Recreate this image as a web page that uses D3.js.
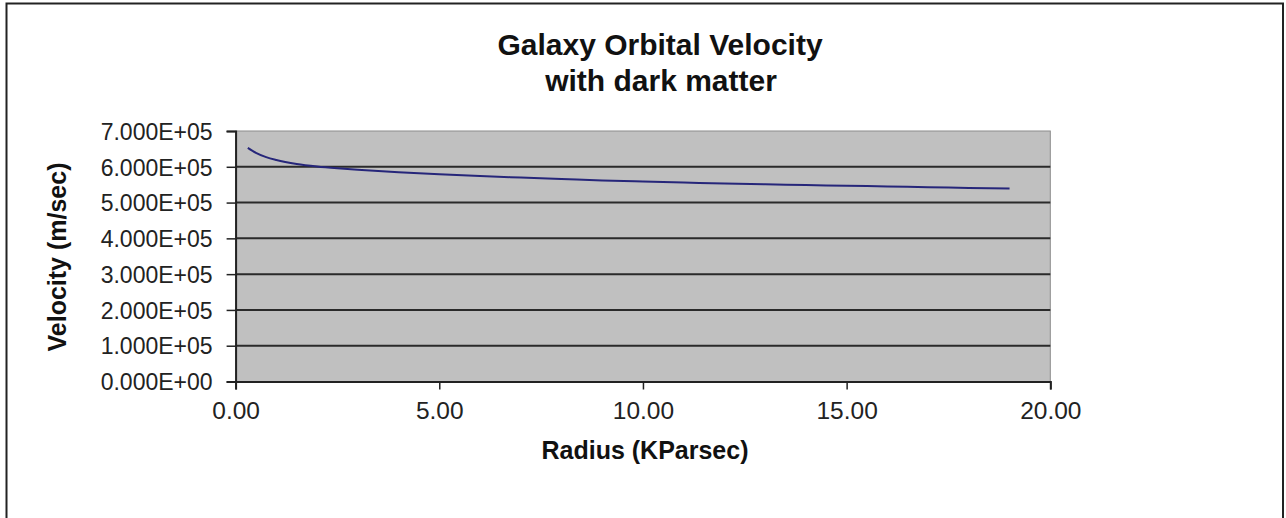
<!DOCTYPE html>
<html><head><meta charset="utf-8">
<script src="https://cdn.jsdelivr.net/npm/d3@7"></script>
<style>html,body{margin:0;padding:0;background:#fff;}svg{display:block;}</style>
</head><body>
<svg id="chart" width="1286" height="518"></svg>
<script>
// Data
const radius = [0.3, 0.5, 0.75, 1.0, 1.5, 2.0, 2.5, 3.0, 4.0, 5.0, 6.0, 7.0, 8.0, 9.0, 10.0, 11.0, 12.0, 13.0, 14.0, 15.0, 16.0, 17.0, 18.0, 19.0];
const velocity = [6.53e5, 6.39e5, 6.27e5, 6.19e5, 6.08e5, 6.01e5, 5.96e5, 5.92e5, 5.85e5, 5.79e5, 5.74e5, 5.70e5, 5.66e5, 5.62e5, 5.59e5, 5.56e5, 5.53e5, 5.51e5, 5.49e5, 5.47e5, 5.45e5, 5.43e5, 5.41e5, 5.39e5];
const yTicks = [0, 1e5, 2e5, 3e5, 4e5, 5e5, 6e5, 7e5];
const yTickLabels = ["0.000E+00","1.000E+05","2.000E+05","3.000E+05","4.000E+05","5.000E+05","6.000E+05","7.000E+05"];
const xTicks = [0, 5, 10, 15, 20];
const xTickLabels = ["0.00","5.00","10.00","15.00","20.00"];
const titleLines = ["Galaxy Orbital Velocity", "with dark matter"];
const xTitle = "Radius (KParsec)";
const yTitle = "Velocity (m/sec)";

const svg = d3.select("#chart");
const font = "'Liberation Sans', Arial, sans-serif";
const L = 235.6, R = 1050.3, T = 131, B = 381.5;

const x = d3.scaleLinear().domain([0, 20]).range([L, R]);
const y = d3.scaleLinear().domain([0, 7e5]).range([B, T]);

// outer frame
svg.append("rect").attr("x", 6.5).attr("y", 3.5).attr("width", 1276.5).attr("height", 530)
  .attr("fill", "#fff").attr("stroke", "#222").attr("stroke-width", 2);

// plot area
svg.append("rect").attr("x", L).attr("y", T).attr("width", R - L).attr("height", B - T)
  .attr("fill", "#c0c0c0").attr("stroke", "#8c8c8c").attr("stroke-width", 1);

// gridlines
svg.append("g").selectAll("line").data(yTicks.filter(d => d > 0 && d < 7e5)).join("line")
  .attr("x1", L).attr("x2", R).attr("y1", d => y(d)).attr("y2", d => y(d))
  .attr("stroke", "#2a2a2a").attr("stroke-width", 2);

// y axis
const yAxis = d3.axisLeft(y).tickValues(yTicks).tickSize(9).tickPadding(14)
  .tickFormat((d, i) => yTickLabels[i]);
const gy = svg.append("g").attr("transform", `translate(${L},0)`).call(yAxis);
gy.select(".domain").attr("stroke", "#222").attr("stroke-width", 2);
gy.selectAll(".tick line").attr("stroke", "#222").attr("stroke-width", 1.5);
gy.selectAll(".tick text").attr("font-family", font).attr("font-size", 23).attr("fill", "#222")
  .attr("dy", "0.36em");

// x axis
const xAxis = d3.axisBottom(x).tickValues(xTicks).tickSize(8).tickPadding(12)
  .tickFormat((d, i) => xTickLabels[i]);
const gx = svg.append("g").attr("transform", `translate(0,${B})`).call(xAxis);
gx.select(".domain").attr("stroke", "#222").attr("stroke-width", 2);
gx.selectAll(".tick line").attr("stroke", "#222").attr("stroke-width", 1.5);
gx.selectAll(".tick text").attr("font-family", font).attr("font-size", 24.5).attr("fill", "#222");

// line
const pts = radius.map((r, i) => [r, velocity[i]]);
svg.append("path").datum(pts)
  .attr("fill", "none").attr("stroke", "#26267a").attr("stroke-width", 2)
  .attr("d", d3.line().x(d => x(d[0])).y(d => y(d[1])).curve(d3.curveMonotoneX));

// titles
svg.append("text").attr("x", 660).attr("y", 55).attr("text-anchor", "middle")
  .attr("font-family", font).attr("font-weight", "bold").attr("font-size", 30).attr("fill", "#111")
  .text(titleLines[0]);
svg.append("text").attr("x", 661).attr("y", 90.5).attr("text-anchor", "middle")
  .attr("font-family", font).attr("font-weight", "bold").attr("font-size", 30).attr("fill", "#111")
  .text(titleLines[1]);

svg.append("text").attr("x", 645).attr("y", 459).attr("text-anchor", "middle")
  .attr("font-family", font).attr("font-weight", "bold").attr("font-size", 25).attr("fill", "#111")
  .text(xTitle);

svg.append("text").attr("transform", "translate(66,257) rotate(-90)").attr("text-anchor", "middle")
  .attr("font-family", font).attr("font-weight", "bold").attr("font-size", 25).attr("fill", "#111")
  .text(yTitle);
</script>
</body></html>
